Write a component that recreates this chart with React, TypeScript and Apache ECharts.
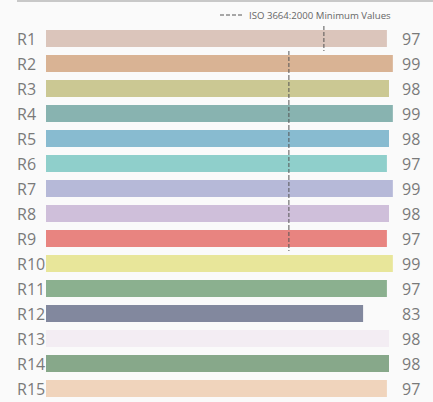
import React, { useEffect, useRef } from "react";
import * as echarts from "echarts";

const categories = ["R1", "R2", "R3", "R4", "R5", "R6", "R7", "R8", "R9", "R10", "R11", "R12", "R13", "R14", "R15"];
// bar lengths (scale 0–100)
const barValues = [97.4, 99.1, 98.0, 99.1, 98.0, 97.4, 99.1, 98.0, 97.4, 99.1, 97.4, 90.6, 98.0, 98.0, 97.4];
// numbers printed at the right of each bar
const labelValues = ["97", "99", "98", "99", "98", "97", "99", "98", "97", "99", "97", "83", "98", "98", "97"];
// ISO 3664:2000 minimum values per row (null = none)
const isoMin: (number | null)[] = [79.4, 69.4, 69.4, 69.4, 69.4, 69.4, 69.4, 69.4, 69.4, null, null, null, null, null, null];
const barColors = [
  "#dbc5bb", "#d9b394", "#cbc893", "#88b3b0", "#88bbd0", "#8fcfcb", "#b6b9d8", "#cfbfda",
  "#e88480", "#e8e69a", "#8bb08f", "#82889e", "#f3edf3", "#87a88a", "#f0d4bc",
];
const legendText = "ISO 3664:2000 Minimum Values";

export default function App() {
  const ref = useRef<HTMLDivElement>(null);
  useEffect(() => {
    if (!ref.current) return;
    const chart = echarts.init(ref.current, null, { renderer: "svg" });
    const font = "'Open Sans', sans-serif";
    const isoData = isoMin
      .map((v, i) => (v == null ? null : [v, i]))
      .filter((d) => d !== null) as number[][];
    chart.setOption({
      animation: false,
      backgroundColor: "#fafafa",
      grid: { left: 46, right: 37, top: 26, height: 375 },
      xAxis: { type: "value", min: 0, max: 100, show: false },
      yAxis: [
        {
          type: "category",
          data: categories,
          inverse: true,
          axisLine: { show: false },
          axisTick: { show: false },
          axisLabel: { align: "left", margin: 29, color: "#7a7a7a", fontSize: 16, fontFamily: font },
        },
        {
          type: "category",
          data: labelValues,
          inverse: true,
          position: "right",
          axisLine: { show: false },
          axisTick: { show: false },
          axisLabel: { align: "left", margin: 6, color: "#7a7a7a", fontSize: 16, fontFamily: font },
        },
      ],
      series: [
        {
          type: "bar",
          data: barValues.map((v, i) => ({ value: v, itemStyle: { color: barColors[i] } })),
          barWidth: 17,
          yAxisIndex: 0,
        },
        {
          type: "custom",
          yAxisIndex: 0,
          z: 5,
          data: isoData,
          encode: { x: 0, y: 1 },
          renderItem: (params: any, api: any) => {
            const p = api.coord([api.value(0), api.value(1)]);
            const h = api.size([0, 1])[1];
            return {
              type: "line",
              shape: { x1: p[0], y1: p[1] - h / 2, x2: p[0], y2: p[1] + h / 2 },
              style: { stroke: "#555", lineWidth: 1, lineDash: [4, 2] },
            };
          },
        },
      ],
      graphic: [
        { type: "rect", shape: { x: 17, y: 0, width: 416, height: 2 }, style: { fill: "#c8c8c8" } },
        {
          type: "line",
          shape: { x1: 220, y1: 15, x2: 242, y2: 15 },
          style: { stroke: "#555", lineWidth: 1, lineDash: [4, 2] },
        },
        {
          type: "text",
          x: 249,
          y: 15,
          style: { text: legendText, fill: "#666", fontSize: 9.6, fontFamily: font, verticalAlign: "middle" },
        },
      ],
    });
    return () => chart.dispose();
  }, []);
  return (
    <div
      ref={ref}
      style={{ position: "absolute", left: 0, top: 0, width: 433, height: 402, background: "#fafafa" }}
    />
  );
}
